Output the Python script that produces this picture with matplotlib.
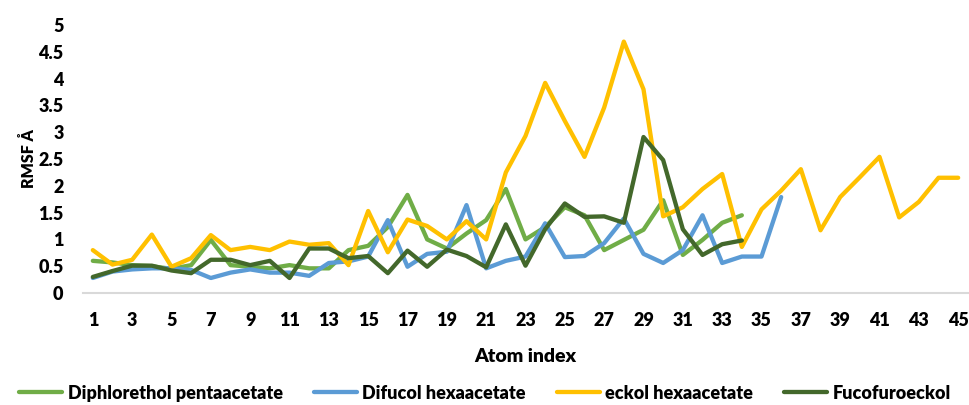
import matplotlib.pyplot as plt

# RMSF per atom index
diphlorethol = [0.60, 0.57, 0.52, 0.50, 0.45, 0.52, 0.99, 0.52, 0.49, 0.46,
                0.52, 0.46, 0.46, 0.80, 0.88, 1.23, 1.83, 1.00, 0.83, 1.11,
                1.36, 1.94, 1.00, 1.23, 1.60, 1.45, 0.80, 0.99, 1.18, 1.73,
                0.71, 0.99, 1.31, 1.45]
difucol = [0.28, 0.40, 0.44, 0.46, 0.46, 0.43, 0.28, 0.38, 0.44, 0.38,
           0.38, 0.32, 0.56, 0.59, 0.68, 1.36, 0.49, 0.73, 0.77, 1.64,
           0.46, 0.60, 0.68, 1.30, 0.67, 0.69, 0.93, 1.39, 0.73, 0.56,
           0.80, 1.45, 0.56, 0.68, 0.68, 1.79]
eckol = [0.80, 0.53, 0.62, 1.09, 0.49, 0.65, 1.08, 0.80, 0.86, 0.80,
         0.96, 0.90, 0.93, 0.52, 1.53, 0.76, 1.37, 1.25, 1.00, 1.34,
         1.00, 2.25, 2.93, 3.92, 3.21, 2.54, 3.46, 4.69, 3.80, 1.43,
         1.60, 1.94, 2.22, 0.86, 1.56, 1.91, 2.31, 1.17, 1.79, 2.16,
         2.54, 1.41, 1.70, 2.15, 2.15]
fucofuroeckol = [0.30, 0.41, 0.51, 0.51, 0.42, 0.37, 0.62, 0.62, 0.52, 0.60,
                 0.28, 0.83, 0.83, 0.65, 0.69, 0.37, 0.79, 0.49, 0.81, 0.69,
                 0.48, 1.28, 0.51, 1.19, 1.67, 1.42, 1.43, 1.31, 2.91, 2.48,
                 1.19, 0.71, 0.91, 0.98]

series = [
    ('Diphlorethol pentaacetate', diphlorethol, '#70AD47'),
    ('Difucol hexaacetate', difucol, '#5B9BD5'),
    ('eckol hexaacetate', eckol, '#FFC000'),
    ('Fucofuroeckol', fucofuroeckol, '#43682B'),
]

plt.rcParams['font.family'] = ['Lato', 'DejaVu Sans']
plt.rcParams['font.weight'] = 'heavy'

fig = plt.figure(figsize=(9.7, 4.05), dpi=100)
ax = fig.add_axes([83 / 970, 1 - 293 / 405, 885 / 970, 268 / 405])

for name, vals, color in series:
    x = list(range(1, len(vals) + 1))
    ax.plot(x, vals, color=color, lw=3.1, label=name,
            solid_joinstyle='round', solid_capstyle='round')

ax.set_xlim(0.5, 45.5)
ax.set_ylim(0, 5)
ax.set_xticks(range(1, 46, 2))
ax.set_yticks([0, 0.5, 1, 1.5, 2, 2.5, 3, 3.5, 4, 4.5, 5])
ax.set_yticklabels(['0', '0.5', '1', '1.5', '2', '2.5', '3', '3.5', '4', '4.5', '5'])
ax.tick_params(axis='both', length=0, labelsize=13)
ax.tick_params(axis='x', pad=14)
ax.tick_params(axis='y', pad=14)
for lbl in ax.get_xticklabels() + ax.get_yticklabels():
    lbl.set_fontweight('heavy')

for side in ['top', 'right', 'left']:
    ax.spines[side].set_visible(False)
ax.spines['bottom'].set_color('#D9D9D9')
ax.spines['bottom'].set_linewidth(1.5)

ax.set_xlabel('Atom index', fontsize=14, fontweight='heavy', labelpad=13)
ax.set_ylabel('RMSF Å', fontsize=11.5, fontweight='heavy', labelpad=1)

fig.legend(loc='lower center', ncol=4, frameon=False,
           bbox_to_anchor=(0.5, -0.032), handlelength=2.4, handletextpad=0.3,
           columnspacing=1.7, prop={'weight': 'heavy', 'size': 13})

fig.savefig('out.png', dpi=100)
